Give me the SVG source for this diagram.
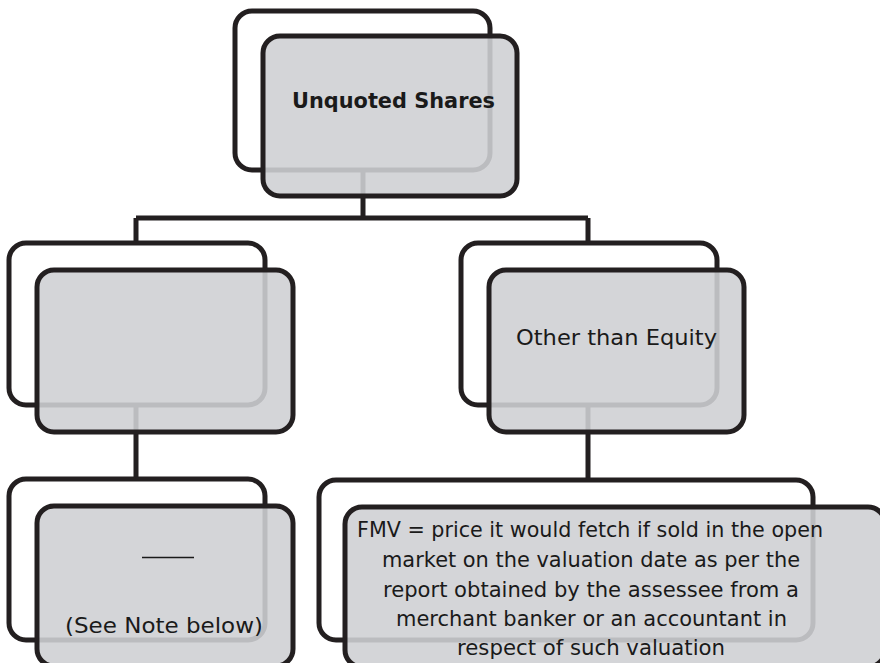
<svg xmlns="http://www.w3.org/2000/svg" width="880" height="663" viewBox="0 0 880 663">
<style>
.back{fill:#ffffff;stroke:#231f20;stroke-width:5}
.front{fill:#cfd0d3;fill-opacity:0.89;stroke:#231f20;stroke-width:5}
.conn{fill:none;stroke:#231f20;stroke-width:5}
text{font-family:"DejaVu Sans","Liberation Sans",sans-serif;fill:#1a1a1a;text-anchor:middle}
.t{font-size:22px}
.b{font-size:22px;font-weight:bold}
</style>
<rect width="880" height="663" fill="#ffffff"/>
<g id="connectors">
<path class="conn" d="M363,170 V218 M136,218 H588 M136,218 V243 M588,218 V243 M136,405 V478 M588,405 V480"/>
</g>
<g id="node-unquoted">
<rect class="back" x="235" y="11" width="255" height="159" rx="17"/>
<rect class="front" x="263" y="36" width="254" height="160" rx="17"/>
<text class="b" x="393.5" y="108" textLength="203" lengthAdjust="spacingAndGlyphs">Unquoted Shares</text>
</g>
<g id="node-equity">
<rect class="back" x="9" y="243" width="256" height="162" rx="17"/>
<rect class="front" x="37" y="270" width="256" height="162" rx="17"/>
</g>
<g id="node-other">
<rect class="back" x="461" y="243" width="256" height="162" rx="17"/>
<rect class="front" x="489" y="270" width="255" height="162" rx="17"/>
<text class="t" x="616.5" y="345" textLength="201" lengthAdjust="spacingAndGlyphs">Other than Equity</text>
</g>
<g id="node-note">
<rect class="back" x="9" y="479" width="256" height="161" rx="17"/>
<rect class="front" x="37" y="506" width="256" height="160" rx="17"/>
<line x1="142" y1="557.5" x2="194" y2="557.5" stroke="#1a1a1a" stroke-width="1.5"/>
<text class="t" x="164" y="633" textLength="198" lengthAdjust="spacingAndGlyphs">(See Note below)</text>
</g>
<g id="node-fmv">
<rect class="back" x="319" y="480" width="494" height="160" rx="17"/>
<rect class="front" x="345" y="507" width="540" height="160" rx="17"/>
<text class="t" x="590" y="537" textLength="466" lengthAdjust="spacingAndGlyphs">FMV = price it would fetch if sold in the open</text>
<text class="t" x="591" y="567" textLength="418" lengthAdjust="spacingAndGlyphs">market on the valuation date as per the</text>
<text class="t" x="591" y="597" textLength="416" lengthAdjust="spacingAndGlyphs">report obtained by the assessee from a</text>
<text class="t" x="591.5" y="626" textLength="391" lengthAdjust="spacingAndGlyphs">merchant banker or an accountant in</text>
<text class="t" x="591" y="655" textLength="268" lengthAdjust="spacingAndGlyphs">respect of such valuation</text>
</g>
</svg>
